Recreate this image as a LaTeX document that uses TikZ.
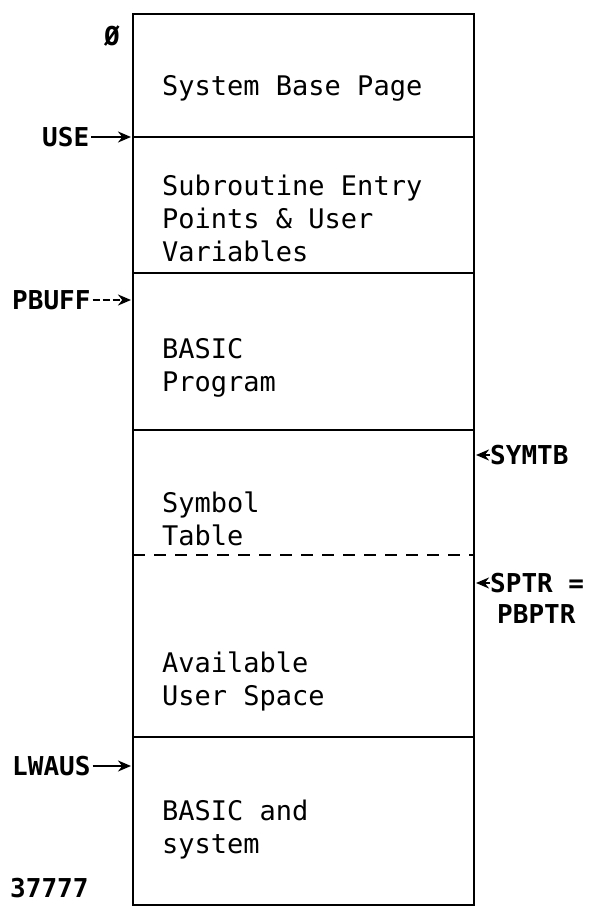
\documentclass[tikz,border=0pt]{standalone}
\usepackage{fontspec}
\setmonofont{DejaVu Sans Mono}
\usetikzlibrary{arrows.meta,positioning}

\begin{document}
\begin{tikzpicture}[x=1pt,y=-1pt,
  region/.style={anchor=west,align=left,inner sep=0pt,font=\ttfamily\fontsize{27}{33}\selectfont},
  addr/.style={inner sep=0pt,font=\ttfamily\bfseries\fontsize{26}{33}\selectfont},
  wall/.style={line width=2.8pt},
  ptr/.style={line width=2.4pt,-{Stealth[length=13pt,width=11pt]}}]
\useasboundingbox (0,0) rectangle (591,910);
% memory map
\draw[wall] (133,14) rectangle (474,905);
\draw[wall] (133,137) -- (474,137);
\draw[wall] (133,273) -- (474,273);
\draw[wall] (133,430) -- (474,430);
\draw[wall,dash pattern=on 12pt off 9pt] (133,555) -- (474,555);
\draw[wall] (133,737) -- (474,737);
% what sits where
\node[region] (sbp) at (162,88) {System Base Page};
\node[region] (subr) at (162,218) {Subroutine Entry\\Points \& User\\Variables};
\node[region] (prog) at (162,368) {BASIC\\Program};
\node[region] (symtab) at (162,519) {Symbol\\Table};
\node[region] (avail) at (162,681) {Available\\User Space};
\node[region] (sys) at (162,830) {BASIC and\\system};
% pointers
\node[addr,anchor=east] (zero) at (120,36) {Ø};
\node[addr,anchor=west] (use) at (42,137) {USE};
\node[addr,anchor=west] (pbuff) at (12,300) {PBUFF};
\node[addr,anchor=west] (lwaus) at (12,766) {LWAUS};
\node[addr,anchor=west] (last) at (10,888) {37777};
\node[addr,anchor=west] (symtb) at (490,455) {SYMTB};
\node[addr,anchor=west] (sptr) at (490,583) {SPTR =};
\node[addr,anchor=west] (pbptr) at (497,614) {PBPTR};
\coordinate (use tip) at (131,137);
\coordinate (pbuff tip) at (131,300);
\coordinate (lwaus tip) at (131,766);
\coordinate (symtb tip) at (476,455);
\coordinate (sptr tip) at (476,583);
\draw[ptr] (use.east) ++(2,0) -- (use tip);
\draw[ptr,dash pattern=on 7pt off 3pt] (pbuff.east) ++(2,0) -- (pbuff tip);
\draw[ptr] (lwaus.east) ++(2,0) -- (lwaus tip);
\draw[ptr] (symtb.west) -- (symtb tip);
\draw[ptr] (sptr.west) -- (sptr tip);
\end{tikzpicture}
\end{document}
